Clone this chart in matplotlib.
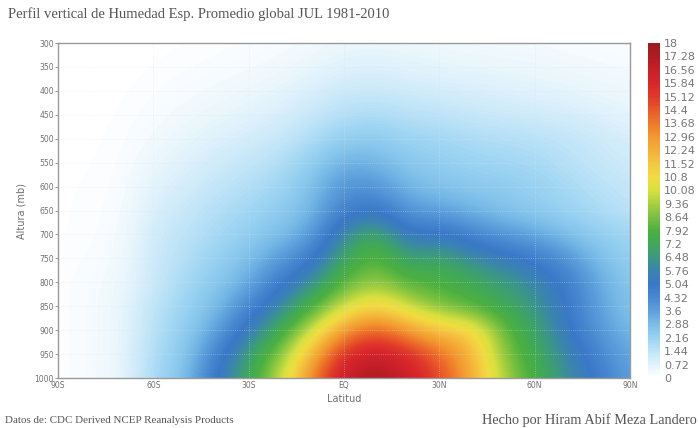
import numpy as np
import matplotlib
matplotlib.use('Agg')
import matplotlib.pyplot as plt
from matplotlib.colors import LinearSegmentedColormap

# Latitudes (cada 10 grados) y niveles de presion (mb), de arriba hacia abajo
latitudes = [-90, -80, -70, -60, -50, -40, -30, -20, -10, 0, 10, 20, 30, 40, 50, 60, 70, 80, 90]
niveles = [300, 350, 400, 450, 500, 550, 600, 650, 700, 750, 800, 850, 900, 950, 1000]

# Humedad especifica (g/kg) por nivel, de 90S a 90N
q300 = [0.01, 0.01, 0.02, 0.04, 0.06, 0.1, 0.14, 0.2, 0.3, 0.45, 0.5, 0.42, 0.35, 0.3, 0.28, 0.25, 0.2, 0.16, 0.12]
q350 = [0.01, 0.02, 0.03, 0.07, 0.12, 0.18, 0.25, 0.35, 0.55, 0.75, 0.8, 0.7, 0.6, 0.55, 0.5, 0.45, 0.4, 0.3, 0.25]
q400 = [0.02, 0.03, 0.05, 0.12, 0.22, 0.32, 0.45, 0.6, 0.9, 1.2, 1.25, 1.1, 1.0, 0.9, 0.8, 0.7, 0.6, 0.5, 0.4]
q450 = [0.02, 0.04, 0.07, 0.2, 0.35, 0.5, 0.7, 0.9, 1.3, 1.7, 1.8, 1.6, 1.5, 1.3, 1.2, 1.1, 1.0, 0.8, 0.6]
q500 = [0.03, 0.05, 0.1, 0.3, 0.55, 0.8, 1.0, 1.3, 1.8, 2.3, 2.4, 2.1, 2.0, 1.8, 1.7, 1.6, 1.4, 1.2, 0.9]
q550 = [0.04, 0.06, 0.12, 0.5, 0.8, 1.1, 1.4, 1.7, 2.3, 3.2, 3.1, 2.5, 2.3, 2.1, 2.0, 1.9, 1.6, 1.3, 1.1]
q600 = [0.05, 0.08, 0.15, 0.7, 1.0, 1.4, 1.7, 2.0, 2.8, 4.0, 3.9, 3.0, 2.7, 2.5, 2.4, 2.2, 1.9, 1.6, 1.3]
q650 = [0.05, 0.1, 0.2, 0.9, 1.3, 1.7, 2.0, 2.4, 3.0, 4.6, 5.1, 3.8, 3.5, 3.1, 2.7, 2.4, 2.1, 1.8, 1.5]
q700 = [0.05, 0.1, 0.25, 1.1, 1.5, 1.9, 2.3, 2.8, 3.6, 6.2, 7.4, 5.0, 5.3, 4.4, 3.8, 3.4, 2.8, 2.3, 2.0]
q750 = [0.08, 0.15, 0.3, 1.2, 1.7, 2.2, 2.8, 3.7, 4.8, 7.2, 8.3, 6.7, 7.0, 6.1, 5.4, 4.8, 3.9, 2.8, 2.2]
q800 = [0.1, 0.2, 0.4, 1.2, 1.9, 2.5, 3.3, 4.8, 6.3, 8.2, 9.2, 8.0, 7.9, 7.3, 6.7, 5.9, 4.8, 3.3, 2.5]
q850 = [0.1, 0.2, 0.5, 1.5, 2.1, 2.9, 4.3, 6.0, 7.8, 10.0, 11.2, 9.8, 8.6, 8.0, 7.2, 6.4, 5.0, 3.5, 2.6]
q900 = [0.1, 0.2, 0.5, 1.6, 2.3, 3.5, 5.5, 7.4, 10.0, 13.0, 14.4, 12.8, 11.6, 11.2, 8.4, 6.9, 5.2, 3.8, 2.9]
q950 = [0.1, 0.2, 0.5, 1.8, 2.5, 4.5, 6.8, 8.8, 12.2, 15.6, 16.6, 15.6, 14.0, 12.2, 8.8, 7.3, 5.8, 4.4, 3.3]
q1000 = [0.1, 0.2, 0.5, 1.9, 2.7, 5.2, 7.3, 9.8, 13.6, 16.8, 17.6, 16.6, 14.8, 12.4, 9.5, 7.6, 6.2, 4.8, 3.5]

etiquetas_lat = ['90S', '60S', '30S', 'EQ', '30N', '60N', '90N']
ticks_lat = [-90, -60, -30, 0, 30, 60, 90]
ticks_cb = [round(0.72 * i, 2) for i in range(26)]

campo = np.array([q300, q350, q400, q450, q500, q550, q600, q650, q700, q750,
                  q800, q850, q900, q950, q1000])

# Paleta blanco-azul-verde-amarillo-rojo
stops = [
    (0.00, '#ffffff'), (0.04, '#e0f2fc'), (0.08, '#bfe4f8'), (0.12, '#98d2f2'),
    (0.16, '#7abce8'), (0.20, '#5c9fdc'), (0.24, '#4888d0'), (0.28, '#3a78c8'),
    (0.32, '#3a84b0'), (0.36, '#3c9882'), (0.40, '#40a858'), (0.44, '#4cb040'),
    (0.48, '#78c040'), (0.52, '#a8d040'), (0.56, '#d8e040'), (0.60, '#f0dc40'),
    (0.64, '#f4c840'), (0.68, '#f4b038'), (0.72, '#f29a30'), (0.76, '#ee7a2a'),
    (0.80, '#e85a28'), (0.84, '#e03a2a'), (0.88, '#d8262a'), (0.92, '#c8202a'),
    (0.96, '#b01c20'), (1.00, '#9b1b1e'),
]
cmap = LinearSegmentedColormap.from_list('humedad', stops)

gris = '#707070'
fig = plt.figure(figsize=(6.98, 4.28), dpi=100)
ax = fig.add_axes([0.0831, 0.1168, 0.8195, 0.7827])

# cada celda centrada en su latitud y nivel
dlat = (latitudes[1] - latitudes[0]) / 2
dp = (niveles[1] - niveles[0]) / 2
extent = (latitudes[0] - dlat, latitudes[-1] + dlat, niveles[-1] + dp, niveles[0] - dp)
img = ax.imshow(campo, cmap=cmap, vmin=0, vmax=18, extent=extent, origin='upper',
                aspect='auto', interpolation='bicubic')

ax.set_xlim(-90, 90)
ax.set_ylim(1000, 300)
ax.set_xticks(ticks_lat)
ax.set_xticklabels(etiquetas_lat)
ax.set_yticks(range(300, 1001, 50))
ax.tick_params(axis='both', labelsize=5.5, colors=gris, length=2, width=0.5, pad=1)
ax.tick_params(axis='x', length=0, pad=2)
for lado in ax.spines.values():
    lado.set_color('#9a9a9a')
    lado.set_linewidth(1)
ax.grid(True, color='#e0e0e0', linestyle=':', linewidth=0.6, alpha=0.5)
ax.set_xlabel('Latitud', fontsize=7, color=gris, labelpad=3)
ax.set_ylabel('Altura (mb)', fontsize=7, color=gris, labelpad=6)

cax = fig.add_axes([0.928, 0.1168, 0.0172, 0.7827])
cb = fig.colorbar(img, cax=cax, ticks=ticks_cb)
cb.outline.set_visible(False)
cb.ax.tick_params(labelsize=8, colors='#777777', length=0, pad=3)
cb.ax.set_yticklabels([('%g' % t) for t in ticks_cb])

fig.text(0.011, 0.967, 'Perfil vertical de Humedad Esp. Promedio global JUL 1981-2010',
         family='Liberation Serif', fontsize=10.5, color='#555555', va='center')
fig.text(0.007, 0.018, 'Datos de: CDC Derived NCEP Reanalysis Products',
         family='Liberation Serif', fontsize=7.9, color='#555555', va='center')
fig.text(0.998, 0.018, 'Hecho por Hiram Abif Meza Landero',
         family='Liberation Serif', fontsize=10.3, color='#555555', va='center', ha='right')

fig.savefig('out.png', dpi=100)
